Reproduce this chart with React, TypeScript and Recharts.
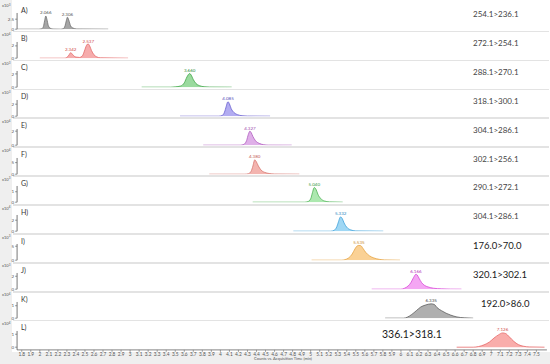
import React from 'react';
import { AreaChart, Area, XAxis, YAxis, LabelList } from 'recharts';

const panelLetters = ['A)', 'B)', 'C)', 'D)', 'E)', 'F)', 'G)', 'H)', 'I)', 'J)', 'K)', 'L)'];
const transitions = ['254.1>236.1', '272.1>254.1', '288.1>270.1', '318.1>300.1', '304.1>286.1', '302.1>256.1', '290.1>272.1', '304.1>286.1', '176.0>70.0', '320.1>302.1', '192.0>86.0', '336.1>318.1'];
const exponents = ['3', '4', '3', '3', '4', '4', '3', '4', '3', '3', '4', '4'];
const yTickValues = [2.5, 2, 2, 2, 2, 5, 1, 2, 5, 2, 1, 1];
const yDomainMax = [4.05, 2.63, 2.44, 2.7, 2.31, 7.0, 1.55, 2.95, 5.8, 2.5, 1.3, 1.25];
const xTicks = [1.8, 1.9, 2, 2.1, 2.2, 2.3, 2.4, 2.5, 2.6, 2.7, 2.8, 2.9, 3, 3.1, 3.2, 3.3, 3.4, 3.5, 3.6, 3.7, 3.8, 3.9, 4, 4.1, 4.2, 4.3, 4.4, 4.5, 4.6, 4.7, 4.8, 4.9, 5, 5.1, 5.2, 5.3, 5.4, 5.5, 5.6, 5.7, 5.8, 5.9, 6, 6.1, 6.2, 6.3, 6.4, 6.5, 6.6, 6.7, 6.8, 6.9, 7, 7.1, 7.2, 7.3, 7.4, 7.5];

const traceA = [[1.75, 0], [1.99, 0], [2.02, 0.08], [2.04, 0.7], [2.053, 2.1], [2.066, 3.3], [2.078, 2.5], [2.094, 0.9], [2.115, 0.25], [2.145, 0.04], [2.23, 0], [2.26, 0.12], [2.28, 0.9], [2.293, 2.1], [2.306, 3.0], [2.32, 2.3], [2.34, 0.9], [2.365, 0.3], [2.41, 0.05], [2.757, 0]];
const traceB = [[2.0, 0], [2.27, 0], [2.3, 0.12], [2.322, 0.5], [2.342, 0.9], [2.36, 0.65], [2.38, 0.33], [2.4, 0.18], [2.44, 0.12], [2.47, 0.35], [2.49, 1.0], [2.51, 1.85], [2.525, 2.25], [2.537, 2.3], [2.552, 2.0], [2.572, 1.25], [2.6, 0.55], [2.63, 0.22], [2.67, 0.06], [2.977, 0]];
const traceC = [[3.128, 0], [3.45, 0], [3.5, 0.05], [3.56, 0.18], [3.6, 0.65], [3.63, 1.55], [3.652, 2.0], [3.66, 2.05], [3.675, 1.85], [3.7, 1.15], [3.73, 0.55], [3.77, 0.22], [3.82, 0.07], [3.88, 0.02], [4.125, 0]];
const traceD = [[3.553, 0], [3.98, 0], [4.02, 0.12], [4.045, 0.65], [4.065, 1.65], [4.078, 2.3], [4.085, 2.4], [4.1, 2.05], [4.12, 1.25], [4.15, 0.62], [4.19, 0.26], [4.24, 0.08], [4.3, 0.02], [4.55, 0]];
const traceE = [[3.81, 0], [4.22, 0], [4.26, 0.12], [4.29, 0.65], [4.31, 1.55], [4.327, 2.0], [4.34, 1.82], [4.36, 1.25], [4.39, 0.62], [4.43, 0.26], [4.48, 0.07], [4.53, 0.01], [4.79, 0]];
const traceF = [[3.877, 0], [4.27, 0], [4.31, 0.22], [4.34, 1.25], [4.36, 3.5], [4.375, 5.8], [4.38, 6.2], [4.395, 5.6], [4.42, 3.6], [4.45, 1.8], [4.49, 0.8], [4.54, 0.3], [4.6, 0.08], [4.874, 0]];
const traceG = [[4.358, 0], [4.93, 0], [4.97, 0.06], [5.0, 0.32], [5.02, 0.92], [5.035, 1.35], [5.04, 1.4], [5.06, 1.22], [5.08, 0.76], [5.11, 0.36], [5.15, 0.12], [5.21, 0.03], [5.355, 0]];
const traceH = [[4.808, 0], [5.22, 0], [5.26, 0.16], [5.29, 0.82], [5.31, 1.8], [5.325, 2.5], [5.332, 2.6], [5.35, 2.3], [5.37, 1.5], [5.4, 0.72], [5.44, 0.26], [5.5, 0.05], [5.804, 0]];
const traceI = [[5.01, 0], [5.34, 0], [5.38, 0.2], [5.42, 0.8], [5.46, 2.2], [5.49, 4.0], [5.515, 5.1], [5.535, 5.3], [5.555, 5.2], [5.58, 4.2], [5.61, 2.8], [5.65, 1.6], [5.7, 0.8], [5.76, 0.3], [5.82, 0.1], [5.99, 0]];
const traceJ = [[5.676, 0], [6.0, 0], [6.04, 0.15], [6.08, 0.5], [6.11, 1.0], [6.14, 1.8], [6.166, 2.3], [6.18, 2.2], [6.2, 1.7], [6.23, 1.0], [6.26, 0.6], [6.3, 0.35], [6.36, 0.15], [6.45, 0.05], [6.55, 0.01], [6.67, 0]];
const traceK = [[5.825, 0], [6.03, 0], [6.07, 0.08], [6.12, 0.3], [6.17, 0.6], [6.22, 0.9], [6.27, 1.05], [6.335, 1.15], [6.37, 1.1], [6.4, 0.85], [6.45, 0.6], [6.5, 0.4], [6.55, 0.25], [6.62, 0.1], [6.7, 0.03], [6.8, 0]];
const traceL = [[6.617, 0], [6.8, 0], [6.86, 0.05], [6.92, 0.18], [6.98, 0.4], [7.03, 0.7], [7.08, 0.95], [7.126, 1.1], [7.16, 1.05], [7.2, 0.8], [7.25, 0.45], [7.3, 0.2], [7.36, 0.07], [7.42, 0.02], [7.59, 0]];

const traces = [traceA, traceB, traceC, traceD, traceE, traceF, traceG, traceH, traceI, traceJ, traceK, traceL];
const peakTimes = [[2.066, 2.306], [2.342, 2.537], [3.66], [4.085], [4.327], [4.38], [5.04], [5.332], [5.535], [6.166], [6.335], [7.126]];

const styles = [
  { stroke: '#6e6e6e', fill: '#9c9c9c', text: '#555' },
  { stroke: '#e46a6a', fill: '#f5a3a3', text: '#d04848' },
  { stroke: '#3fa646', fill: '#8fd694', text: '#2e8a35' },
  { stroke: '#6a5fd0', fill: '#aaa3f0', text: '#5548b8' },
  { stroke: '#b05cc0', fill: '#dca6e6', text: '#9b44ab' },
  { stroke: '#d87872', fill: '#f2aca6', text: '#c25a54' },
  { stroke: '#4cb354', fill: '#a3e6a6', text: '#36993e' },
  { stroke: '#3fa2db', fill: '#95d3f3', text: '#2a86bd' },
  { stroke: '#e6a444', fill: '#f9cc8a', text: '#c98a2a' },
  { stroke: '#d848d8', fill: '#f39cf2', text: '#b830b8' },
  { stroke: '#5e5e5e', fill: '#a6a6a6', text: '#444' },
  { stroke: '#e66a6a', fill: '#f8a4a2', text: '#d04a4a' },
];

const X_DOMAIN: [number, number] = [1.748, 7.617];
const PANEL_TOP = 3;
const PANEL_H = 28.9;
const FONT = 'Lato, "Open Sans", sans-serif';

function buildData(i: number) {
  return traces[i].map(([t, v]) => ({
    t,
    v,
    lbl: peakTimes[i].includes(t) ? t.toFixed(3) : undefined,
  }));
}

function Panel({ i }: { i: number }) {
  const last = i === traces.length - 1;
  const top = PANEL_TOP + i * PANEL_H;
  const xAxisH = 9;
  const h = last ? PANEL_H + xAxisH : PANEL_H;
  const yMax = yDomainMax[i];
  const lo = last ? (yMax * 2.7) / 16.2 : 0;
  const st = styles[i];
  return (
    <div style={{ position: 'absolute', left: 0, top, width: 550, height: h }}>
      <AreaChart
        width={550}
        height={h}
        data={buildData(i)}
        margin={{ top: 10, right: 3, left: 0, bottom: last ? 0 : 2.7 }}
      >
        <XAxis
          type="number"
          dataKey="t"
          domain={X_DOMAIN}
          allowDataOverflow
          hide={!last}
          ticks={xTicks}
          interval={0}
          height={xAxisH}
          tickSize={2}
          tickMargin={0.5}
          tick={{ fontSize: 4.8, fill: '#555', fontFamily: FONT }}
          axisLine={{ stroke: '#666', strokeWidth: 0.8 }}
          tickLine={{ stroke: '#666', strokeWidth: 0.6 }}
        />
        <YAxis
          type="number"
          width={17}
          domain={[-lo, yMax]}
          allowDataOverflow
          ticks={[0, yTickValues[i]]}
          interval={0}
          tickSize={2}
          tickMargin={1}
          tick={{ fontSize: 4.5, fill: '#555', fontFamily: FONT }}
          axisLine={{ stroke: '#555', strokeWidth: 0.8 }}
          tickLine={{ stroke: '#555', strokeWidth: 0.6 }}
        />
        <Area
          type="monotone"
          dataKey="v"
          stroke={st.stroke}
          strokeWidth={0.8}
          fill={st.fill}
          fillOpacity={0.9}
          isAnimationActive={false}
          dot={false}
          activeDot={false}
        >
          <LabelList dataKey="lbl" position="top" offset={1.5} fontSize={4.5} fill={st.text} fontFamily={FONT} />
        </Area>
      </AreaChart>
    </div>
  );
}

export default function App() {
  return (
    <div style={{ position: 'absolute', left: 0, top: 0, width: 550, height: 364, background: '#efefef', overflow: 'hidden' }}>
      <div style={{ position: 'absolute', left: 12, top: 0, width: 538, height: 352, background: '#ffffff' }} />
      {traces.slice(1).map((_, k) => (
        <div
          key={'sep' + k}
          style={{ position: 'absolute', left: 13, top: PANEL_TOP + (k + 1) * PANEL_H - 1.2, width: 536, height: 1.8, background: '#e3e3e3' }}
        />
      ))}
      {traces.map((_, i) => (
        <Panel key={i} i={i} />
      ))}
      <svg width={550} height={364} style={{ position: 'absolute', left: 0, top: 0, pointerEvents: 'none' }}>
        {traces.map((_, i) => {
          const top = PANEL_TOP + i * PANEL_H;
          const big = i >= 8;
          const lx = i === 11 ? 382 : i === 10 ? 481 : 473;
          const fs = i === 11 ? 10.5 : big ? 9.5 : 8;
          const ly = i === 11 ? top + 16.8 : top + (big ? 15 : 14);
          return (
            <g key={'t' + i} fontFamily={FONT}>
              <text x={2} y={top + 4.3} fontSize={4} fill="#555">
                x10
                <tspan dy={-1.3} fontSize={3}>{exponents[i]}</tspan>
              </text>
              <text x={21} y={top + 9.5} fontSize={7} fill="#333">
                {panelLetters[i]}
              </text>
              <text x={lx} y={ly} fontSize={fs} fill={big ? '#1a1a1a' : '#444'}>
                {transitions[i]}
              </text>
            </g>
          );
        })}
        <text x={283} y={360} fontSize={4} fill="#555" textAnchor="middle" fontFamily={FONT}>
          Counts vs. Acquisition Time (min)
        </text>
      </svg>
    </div>
  );
}
